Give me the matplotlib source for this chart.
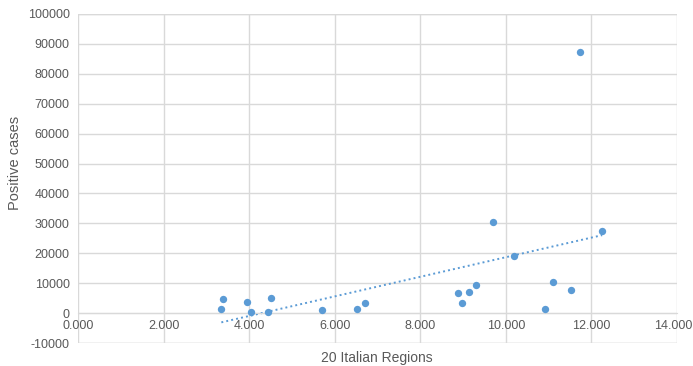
import numpy as np
import matplotlib
matplotlib.use("Agg")
import matplotlib.pyplot as plt
import matplotlib.transforms as mtransforms
from matplotlib.ticker import FuncFormatter

# Index value per region (x) and positive cases (y)
region_index = [3.35, 3.40, 3.94, 4.05, 4.45, 4.52, 5.71, 6.51, 6.71, 8.87,
                8.98, 9.14, 9.31, 9.71, 10.18, 10.92, 11.11, 11.53, 11.74, 12.25]
positive_cases = [1300, 4700, 3700, 300, 300, 5000, 1000, 1300, 3300, 6700,
                  3300, 7000, 9400, 30400, 19000, 1300, 10400, 7700, 87300, 27400]

x_ticks = [0, 2, 4, 6, 8, 10, 12, 14]
y_ticks = [-10000, 0, 10000, 20000, 30000, 40000, 50000, 60000, 70000, 80000, 90000, 100000]

blue = "#5B9BD5"
grid_c = "#D9D9D9"
text_c = "#595959"

plt.rcParams["font.family"] = ["Liberation Sans", "DejaVu Sans"]

fig = plt.figure(figsize=(6.93, 3.66), dpi=100)
ax = fig.add_axes([78 / 693, 23 / 366, 599 / 693, 329 / 366])

ax.scatter(region_index, positive_cases, s=28, color=blue, zorder=3, linewidths=0)

# Linear trend line
xs = np.array(region_index)
ys = np.array(positive_cases)
slope, intercept = np.polyfit(xs, ys, 1)
xt = np.array([xs.min(), xs.max()])
ax.plot(xt, slope * xt + intercept, color=blue, lw=1.4, ls=(0, (1, 1.6)), zorder=2)

ax.set_xlim(0, 14)
ax.set_ylim(-10000, 100000)
ax.set_xticks(x_ticks)
ax.set_yticks(y_ticks)
ax.xaxis.set_major_formatter(FuncFormatter(lambda v, p: f"{v:.3f}"))
ax.yaxis.set_major_formatter(FuncFormatter(lambda v, p: f"{int(v)}"))

ax.grid(True, color=grid_c, lw=1.0, zorder=0)
ax.set_axisbelow(True)
for side in ["top", "right", "left"]:
    ax.spines[side].set_visible(False)
ax.spines["bottom"].set_position(("data", 0))
ax.spines["bottom"].set_color(grid_c)

ax.tick_params(axis="both", length=0, colors=text_c, labelsize=9)
ax.tick_params(axis="x", pad=5)
ax.tick_params(axis="y", pad=6)

# Keep the last x label inside the figure
last = ax.get_xticklabels()[-1]
last.set_transform(last.get_transform() +
                   mtransforms.ScaledTranslation(-4 / 100, 0, fig.dpi_scale_trans))

# Box lines at the plot edges
for v in (-10000, 100000):
    ax.axhline(v, color=grid_c, lw=1.0, zorder=0)

fig.text(15 / 693, 0.5 + (366 / 2 - 163) / 366, "Positive cases", rotation=90,
         ha="center", va="center", color=text_c, fontsize=10.5)
fig.text(377 / 693, 1 - 358 / 366, "20 Italian Regions",
         ha="center", va="center", color=text_c, fontsize=10,
         family=["Liberation Sans Narrow", "Liberation Sans"])

fig.savefig("out.png", dpi=100)
